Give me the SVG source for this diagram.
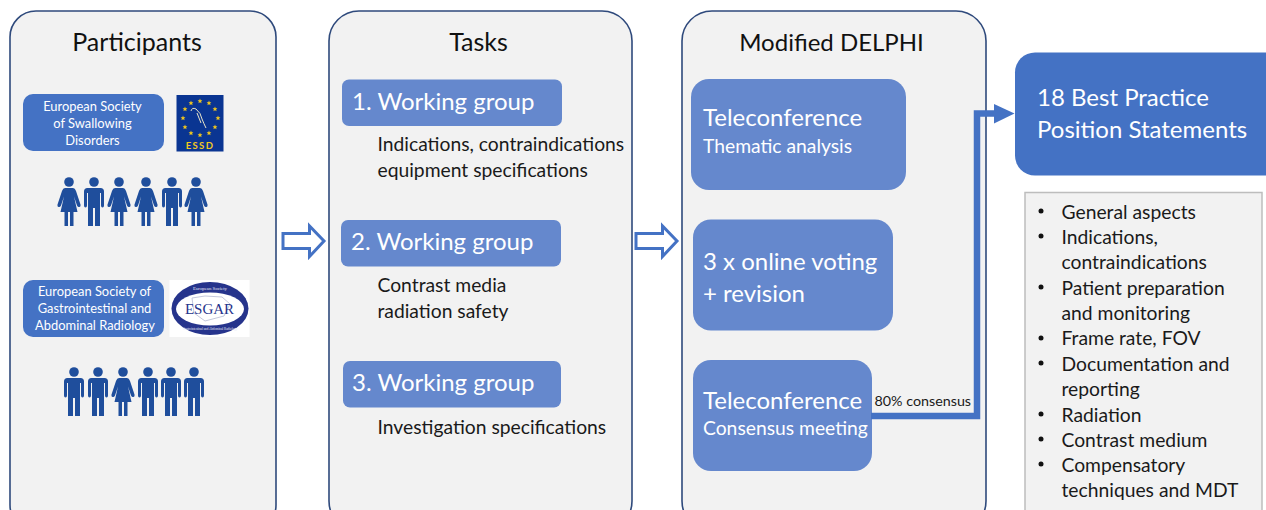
<svg xmlns="http://www.w3.org/2000/svg" xmlns:xlink="http://www.w3.org/1999/xlink" width="1266" height="510" viewBox="0 0 1266 510">
<style>
text{font-family:Lato,"Liberation Sans",sans-serif}
.panel{fill:#f2f2f2;stroke:#2f4a7c;stroke-width:1.6}
.title{font-size:25px;fill:#111;text-anchor:middle}
.b1{fill:#6588cd}
.b2{fill:#4472c4}
.w{fill:#fff}
.big{font-size:24px}
.sub{font-size:19.300px}
.small{font-size:12.900px;text-anchor:middle}
.d{font-size:19.300px;fill:#1a1a1a}
.p{fill:#1f4e9c}
.star{fill:#f2c81e}
.hollow{fill:#fff;stroke:#4472c4;stroke-width:3}
.ring{fill:#e8eaf6;text-anchor:middle;font-family:"Liberation Serif",serif}
</style>
<defs>
<g id="man"><circle cx="0" cy="0" r="4.800"/><path d="M-6.500 6H6.500Q10 6 10 9.500V23.500Q10 25.500 8.500 25.500T7 23.500V11H6V44H1V26H-1V44H-6V11H-7V23.500Q-7 25.500 -8.500 25.500T-10 23.500V9.500Q-10 6 -6.500 6Z"/></g>
<g id="woman"><circle cx="0" cy="0" r="4.800"/><path d="M-4 6H4Q6 6 7 9L11.500 22.500Q12 24.500 10.500 25T8 23.500L5 14.500L8.500 30H4.500V44H1V30H-1V44H-4.500V30H-8.500L-5 14.500L-8 23.500Q-9 25.500 -10.500 25T-11.500 22.500L-7 9Q-6 6 -4 6Z"/></g>
<path id="s" d="M0-2.400L.7-.7L2.400-.7L1.100.4L1.600 2.200L0 1.200L-1.600 2.200L-1.100.4L-2.400-.7L-.7-.7Z"/>
</defs>

<g id="participants">
<rect class="panel" x="10" y="11" width="266" height="520" rx="26"/>
<text class="title" x="137" y="51">Participants</text>
</g>
<g id="essd-box">
<rect class="b2" x="23" y="94" width="141" height="57" rx="10"/>
<text class="small w" x="92.500" y="111">European Society</text><text class="small w" x="92.500" y="128">of Swallowing</text><text class="small w" x="92.500" y="145">Disorders</text>
</g>
<g id="essd-logo">
<rect x="176.500" y="95" width="47" height="56.500" fill="#0a3592"/>
<g class="star">
<use xlink:href="#s" x="200" y="101"/><use xlink:href="#s" x="191" y="103"/><use xlink:href="#s" x="209" y="103"/><use xlink:href="#s" x="185" y="109"/><use xlink:href="#s" x="215" y="109"/><use xlink:href="#s" x="183" y="118"/><use xlink:href="#s" x="218" y="118"/><use xlink:href="#s" x="185" y="127"/><use xlink:href="#s" x="215" y="127"/><use xlink:href="#s" x="191" y="133"/><use xlink:href="#s" x="209" y="133"/><use xlink:href="#s" x="200" y="135"/>
</g>
<path d="M191 111Q192 107 196 109Q201 113 202 119Q204 124 206 128M197 113L201 123" fill="none" stroke="#e8e4c8" stroke-width="1"/>
<text x="200" y="148.500" font-size="9.500" font-weight="700" fill="#f2c81e" text-anchor="middle" letter-spacing="1.300">ESSD</text>
</g>
<g id="essd-people" class="p">
<use xlink:href="#woman" x="69" y="182"/><use xlink:href="#man" x="94" y="182"/><use xlink:href="#woman" x="119" y="182"/><use xlink:href="#woman" x="146" y="182"/><use xlink:href="#man" x="172" y="182"/><use xlink:href="#woman" x="196" y="182"/>
</g>
<g id="esgar-box">
<rect class="b2" x="23" y="280" width="141" height="57" rx="10"/>
<text class="small w" x="94.500" y="296">European Society of</text><text class="small w" x="94.500" y="313">Gastrointestinal and</text><text class="small w" x="95" y="330">Abdominal Radiology</text>
</g>
<g id="esgar-logo">
<rect x="169.500" y="280" width="80" height="57" fill="#fff"/>
<ellipse cx="210" cy="308.500" rx="38.500" ry="26.500" fill="#26348c"/>
<ellipse cx="210" cy="309" rx="34" ry="16.500" fill="#fff"/>
<path d="M192 298L205 296L222 297L230 304L224 316L205 321L194 313Z" fill="none" stroke="#c4c8dc" stroke-width="1"/>
<text class="ring" x="210" y="290" font-size="4.800">European Society</text>
<text class="ring" x="210" y="330" font-size="3.200">Gastrointestinal and Abdominal Radiology</text>
<text x="209.500" y="314" font-size="15" fill="#26348c" text-anchor="middle" style="font-family:'Liberation Serif',serif">ESGAR</text>
</g>
<g id="esgar-people" class="p">
<use xlink:href="#man" x="74" y="372"/><use xlink:href="#man" x="98" y="372"/><use xlink:href="#woman" x="123" y="372"/><use xlink:href="#man" x="148" y="372"/><use xlink:href="#man" x="171" y="372"/><use xlink:href="#man" x="194" y="372"/>
</g>

<g id="tasks">
<rect class="panel" x="329" y="11" width="303" height="520" rx="30"/>
<text class="title" x="478.500" y="51">Tasks</text>
</g>
<g id="wg1">
<rect class="b1" x="342" y="79.500" width="220" height="46.500" rx="7"/>
<text class="big w" x="352" y="110">1. Working group</text>
<text class="d" x="377.500" y="151">Indications, contraindications</text>
<text class="d" x="377.500" y="177">equipment specifications</text>
</g>
<g id="wg2">
<rect class="b1" x="341" y="220" width="220" height="46.500" rx="7"/>
<text class="big w" x="351" y="250">2. Working group</text>
<text class="d" x="377.500" y="292">Contrast media</text>
<text class="d" x="377.500" y="318">radiation safety</text>
</g>
<g id="wg3">
<rect class="b1" x="343" y="361" width="218" height="46.500" rx="7"/>
<text class="big w" x="352" y="391">3. Working group</text>
<text class="d" x="377.500" y="434">Investigation specifications</text>
</g>

<g id="delphi">
<rect class="panel" x="682" y="11" width="304" height="520" rx="30"/>
<text class="title" x="831.500" y="51" style="font-size:24px">Modified DELPHI</text>
</g>
<g id="tele1">
<rect class="b1" x="691" y="79" width="215" height="111" rx="18"/>
<text class="big w" x="703" y="125.500">Teleconference</text>
<text class="sub w" x="703" y="153">Thematic analysis</text>
</g>
<g id="voting">
<rect class="b1" x="693" y="219.500" width="200" height="111" rx="18"/>
<text class="big w" x="703" y="270">3 x online voting</text>
<text class="big w" x="703" y="302">+ revision</text>
</g>
<g id="tele2">
<rect class="b1" x="693" y="360" width="179" height="111" rx="18"/>
<text class="big w" x="703" y="409">Teleconference</text>
<text class="sub w" x="703" y="435">Consensus meeting</text>
</g>

<g id="connectors">
<path class="hollow" d="M283 233.500H309.500V226L324 241L309.500 256.500V248.500H283Z"/>
<path class="hollow" d="M636 233.500H662.500V226L677 241L662.500 256.500V248.500H636Z"/>
<path d="M871 416H977V113.500H996" fill="none" stroke="#4472c4" stroke-width="6.500"/>
<path d="M994 104L1014.500 113.500L994 123.500Z" fill="#4472c4"/>
</g>
<text id="consensus-label" x="874.500" y="406" font-size="14.300" fill="#1a1a1a">80% consensus</text>

<g id="result">
<rect class="b2" x="1015" y="52.500" width="270" height="123" rx="20"/>
<text class="big w" x="1037" y="105.500">18 Best Practice</text>
<text class="big w" x="1037" y="137.500">Position Statements</text>
</g>
<g id="statements">
<rect x="1025" y="192.500" width="237" height="330" fill="#f2f2f2" stroke="#bdbdbd" stroke-width="1.500"/>
<g fill="#111">
<circle cx="1041" cy="211" r="2.500"/><circle cx="1041" cy="236" r="2.500"/><circle cx="1041" cy="287" r="2.500"/><circle cx="1041" cy="338" r="2.500"/><circle cx="1041" cy="363" r="2.500"/><circle cx="1041" cy="414" r="2.500"/><circle cx="1041" cy="439" r="2.500"/><circle cx="1041" cy="464" r="2.500"/>
</g>
<text class="d" x="1061.500" y="218.500">General aspects</text>
<text class="d" x="1061.500" y="243.500">Indications,</text>
<text class="d" x="1061.500" y="269">contraindications</text>
<text class="d" x="1061.500" y="294.500">Patient preparation</text>
<text class="d" x="1061.500" y="320">and monitoring</text>
<text class="d" x="1061.500" y="345">Frame rate, FOV</text>
<text class="d" x="1061.500" y="370.500">Documentation and</text>
<text class="d" x="1061.500" y="396">reporting</text>
<text class="d" x="1061.500" y="421.500">Radiation</text>
<text class="d" x="1061.500" y="446.500">Contrast medium</text>
<text class="d" x="1061.500" y="472">Compensatory</text>
<text class="d" x="1061.500" y="497">techniques and MDT</text>
</g>
</svg>
